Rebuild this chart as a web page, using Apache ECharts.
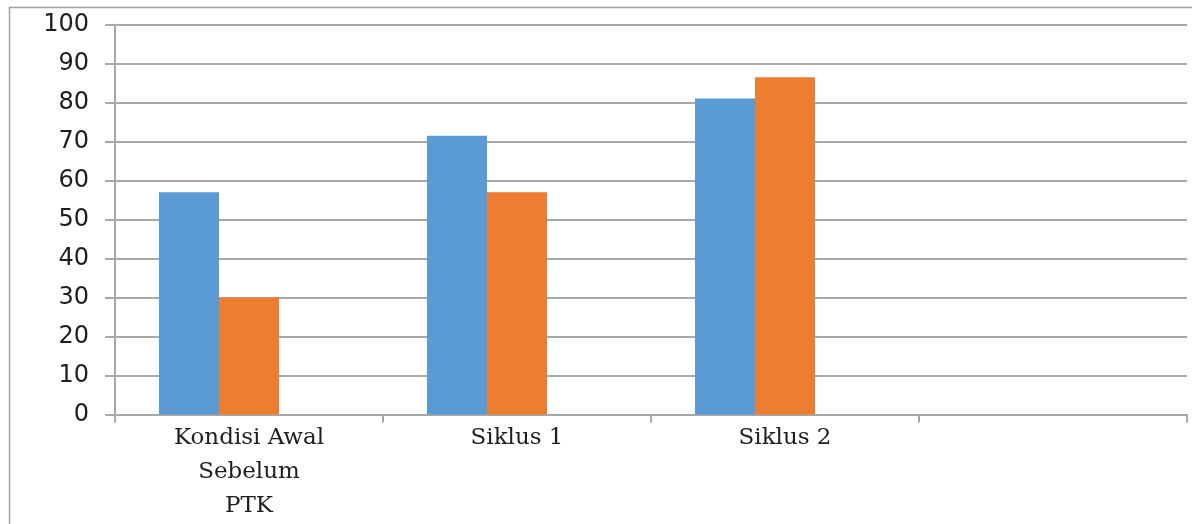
<!DOCTYPE html>
<html>
<head>
<meta charset="utf-8">
<script src="https://cdn.jsdelivr.net/npm/echarts@6/dist/echarts.min.js"></script>
<style>
  html, body { margin: 0; padding: 0; background: #ffffff; overflow: hidden; }
  #chart { width: 1192px; height: 524px; }
</style>
</head>
<body>
<div id="chart"></div>
<script>
// Categories along the x axis (the last slot is left empty)
const categories = ['Kondisi Awal\nSebelum\nPTK', 'Siklus 1', 'Siklus 2', ''];

// Series values
const seriesBlue = [57, 71.5, 81, null];
const seriesOrange = [30, 57, 86.5, null];
const seriesThird = [null, null, null, null];

// Value axis ticks
const yTicks = [0, 10, 20, 30, 40, 50, 60, 70, 80, 90, 100];

const gridColor = '#a8a8a8';

const chart = echarts.init(document.getElementById('chart'), null, { renderer: 'canvas' });

chart.setOption({
  animation: false,
  backgroundColor: '#ffffff',
  graphic: [{
    type: 'rect',
    shape: { x: 9.5, y: 7.5, width: 1300, height: 700 },
    style: { fill: 'none', stroke: '#a0a0a0', lineWidth: 1.5 },
    silent: true,
    z: -10
  }],
  grid: { left: 115, right: 5, top: 24.5, bottom: 109.5, containLabel: false },
  xAxis: {
    type: 'category',
    data: categories,
    boundaryGap: true,
    axisLine: { show: true, lineStyle: { color: gridColor, width: 2 } },
    axisTick: { show: true, interval: 0, length: 8, lineStyle: { color: gridColor, width: 2 } },
    axisLabel: {
      interval: 0,
      margin: 7,
      color: '#1e1e1e',
      fontFamily: 'DejaVu Serif',
      fontSize: 23,
      lineHeight: 34
    },
    splitLine: { show: false }
  },
  yAxis: {
    type: 'value',
    min: yTicks[0],
    max: yTicks[yTicks.length - 1],
    interval: yTicks[1] - yTicks[0],
    axisLine: { show: true, lineStyle: { color: gridColor, width: 2 } },
    axisTick: { show: true, length: 10, lineStyle: { color: gridColor, width: 2 } },
    axisLabel: {
      margin: 26,
      color: '#1e1e1e',
      fontFamily: 'DejaVu Sans',
      fontSize: 24
    },
    splitLine: { show: true, lineStyle: { color: gridColor, width: 2 } }
  },
  series: [
    {
      name: 'Seri 1',
      type: 'bar',
      data: seriesBlue,
      barWidth: 60,
      barGap: '0%',
      itemStyle: { color: '#5b9bd5' }
    },
    {
      name: 'Seri 2',
      type: 'bar',
      data: seriesOrange,
      barWidth: 60,
      barGap: '0%',
      itemStyle: { color: '#ed7d31' }
    },
    {
      name: 'Seri 3',
      type: 'bar',
      data: seriesThird,
      barWidth: 60,
      barGap: '0%',
      itemStyle: { color: '#a5a5a5' }
    }
  ]
});
</script>
</body>
</html>
